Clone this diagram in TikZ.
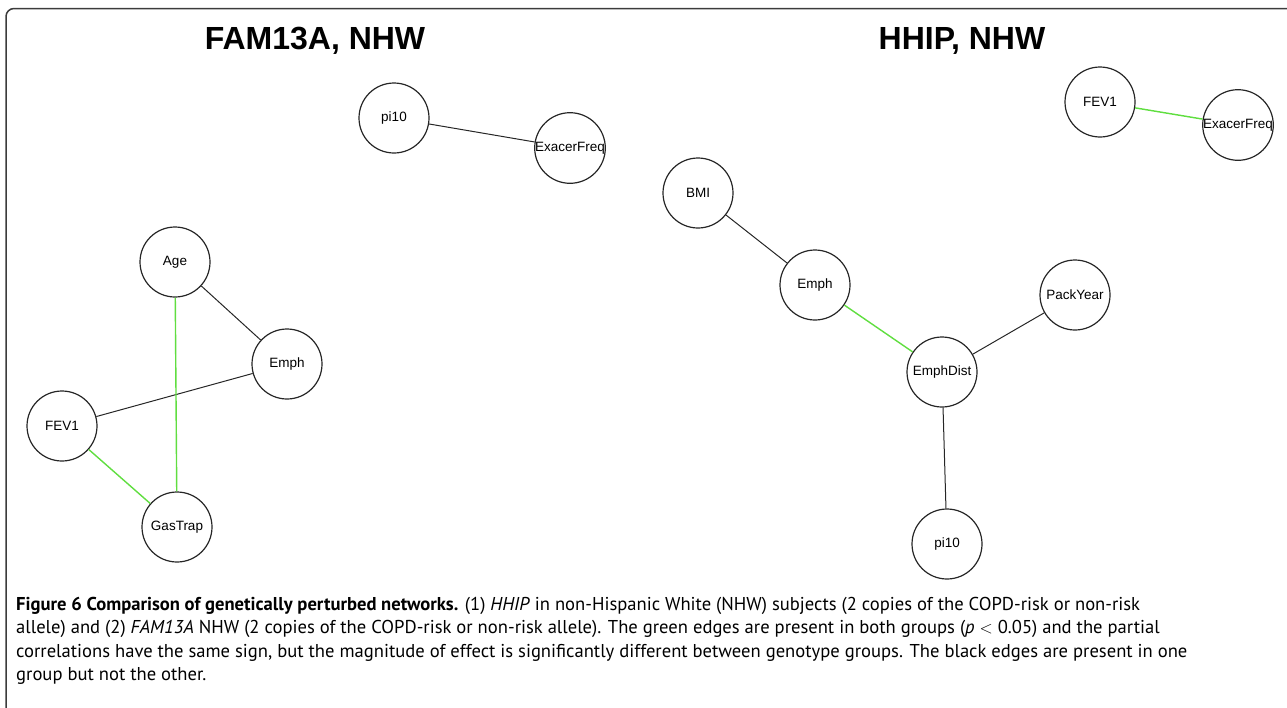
\documentclass[tikz,border=0pt]{standalone}
\usepackage{fontspec}
\setmainfont{Liberation Sans}
\newfontfamily\capfont{PT Sans}
\definecolor{edgegreen}{RGB}{96,222,64}
\definecolor{framegray}{RGB}{60,60,60}
\begin{document}
\begin{tikzpicture}[x=1pt,y=-1pt,
  var/.style={circle,draw=black!85,line width=1.2pt,minimum size=70pt,inner sep=0pt,font=\fontsize{13.5}{15}\selectfont},
  blk/.style={draw=black!85,line width=1pt},
  grn/.style={draw=edgegreen,line width=1.4pt},
  ttl/.style={font=\fontsize{32}{36}\selectfont\bfseries,anchor=base,inner sep=0pt},
  capline/.style={anchor=base west,inner sep=0pt,font=\capfont\fontsize{18.6}{22}\selectfont}]
\useasboundingbox (0,0) rectangle (1287,707);
\draw[line width=1.5pt,framegray,rounded corners=8pt] (6,708) -- (6,8.5) -- (1288,8.5);
% titles
\node[ttl] (t1) at (315,49) {FAM13A, NHW};
\node[ttl] (t2) at (962,49) {HHIP, NHW};
% FAM13A network
\node[var] (api) at (394,118) {pi10};
\node[var] (aex) at (570,148) {ExacerFreq};
\node[var] (aage) at (175,262) {Age};
\node[var] (aemph) at (287,364) {Emph};
\node[var] (afev) at (62,426) {FEV1};
\node[var] (agas) at (177,527) {GasTrap};
\draw[blk] (api) -- (aex);
\draw[blk] (aage) -- (aemph);
\draw[blk] (aemph) -- (afev);
\draw[grn] (aage) -- (agas);
\draw[grn] (afev) -- (agas);
% HHIP network
\node[var] (hfev) at (1100,102) {FEV1};
\node[var] (hex) at (1238,125) {ExacerFreq};
\node[var] (hbmi) at (698,193) {BMI};
\node[var] (hemph) at (815,285) {Emph};
\node[var] (hdist) at (942,372) {EmphDist};
\node[var] (hpack) at (1075,295) {PackYear};
\node[var] (hpi) at (947,544) {pi10};
\draw[grn] (hfev) -- (hex);
\draw[blk] (hbmi) -- (hemph);
\draw[grn] (hemph) -- (hdist);
\draw[blk] (hdist) -- (hpack);
\draw[blk] (hdist) -- (hpi);
% caption
\node[capline] (c1) at (16,610) {\textbf{Figure 6 Comparison of genetically perturbed networks.} (1) \textit{HHIP} in non-Hispanic White (NHW) subjects (2 copies of the COPD-risk or non-risk};
\node[capline] (c2) at (16,633.5) {allele) and (2) \textit{FAM13A} NHW (2 copies of the COPD-risk or non-risk allele). The green edges are present in both groups (\textit{p} $<$ 0.05) and the partial};
\node[capline] (c3) at (16,657) {correlations have the same sign, but the magnitude of effect is significantly different between genotype groups. The black edges are present in one};
\node[capline] (c4) at (16,680.5) {group but not the other.};
\end{tikzpicture}
\end{document}
